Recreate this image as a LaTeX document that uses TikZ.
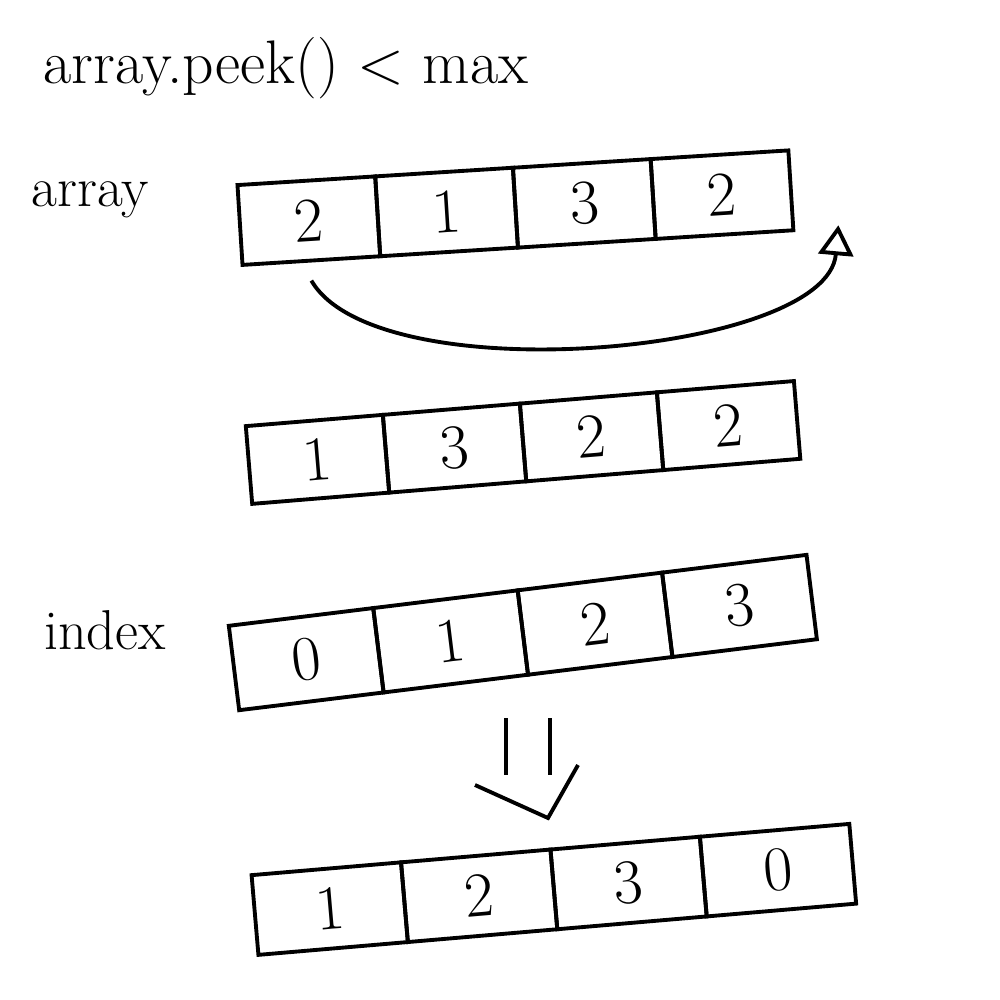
\documentclass[tikz,border=0pt]{standalone}
\usepackage{tikz}
\usetikzlibrary{positioning, arrows.meta}

\tikzset{
  cell/.style={draw, line width=1.1pt, minimum height=0.8cm, minimum width=1.38cm,
    inner sep=0pt, outer sep=0pt, font=\fontsize{18}{20}\selectfont},
  label/.style={font=\fontsize{16}{18}\selectfont}
}

\begin{document}
\begin{tikzpicture}[line width=1.1pt]
\useasboundingbox (0,0) rectangle (10,-10);

\node[label, anchor=west, font=\fontsize{17.5}{19}\selectfont] (cond) at (0.3,-0.68) {array.peek() < max};
\node[label] (lblarr) at (0.9,-2.0) {array};
\node[label] (lblidx) at (1.05,-6.3) {index};

% array before the move
\begin{scope}[shift={(2.40,-2.25)}, rotate=3.6, transform shape]
\node[cell, anchor=west] (a1) at (0,0) {2};
\node[cell, right=0pt of a1] (a2) {1};
\node[cell, right=0pt of a2] (a3) {3};
\node[cell, right=0pt of a3] (a4) {2};
\end{scope}

% array after the move
\begin{scope}[shift={(2.49,-4.65)}, rotate=4.7, transform shape]
\node[cell, anchor=west, minimum height=0.78cm, minimum width=1.375cm] (b1) at (0,0) {1};
\node[cell, right=0pt of b1, minimum height=0.78cm, minimum width=1.375cm] (b2) {3};
\node[cell, right=0pt of b2, minimum height=0.78cm, minimum width=1.375cm] (b3) {2};
\node[cell, right=0pt of b3, minimum height=0.78cm, minimum width=1.375cm] (b4) {2};
\end{scope}

% index
\begin{scope}[shift={(2.34,-6.68)}, rotate=7, transform shape]
\node[cell, anchor=west, minimum height=0.85cm, minimum width=1.455cm] (i1) at (0,0) {0};
\node[cell, right=0pt of i1, minimum height=0.85cm, minimum width=1.455cm] (i2) {1};
\node[cell, right=0pt of i2, minimum height=0.85cm, minimum width=1.455cm] (i3) {2};
\node[cell, right=0pt of i3, minimum height=0.85cm, minimum width=1.455cm] (i4) {3};
\end{scope}

% rotated index
\begin{scope}[shift={(2.55,-9.15)}, rotate=4.9, transform shape]
\node[cell, anchor=west, minimum width=1.5cm] (r1) at (0,0) {1};
\node[cell, right=0pt of r1, minimum width=1.5cm] (r2) {2};
\node[cell, right=0pt of r2, minimum width=1.5cm] (r3) {3};
\node[cell, right=0pt of r3, minimum width=1.5cm] (r4) {0};
\end{scope}

\coordinate (back) at ([xshift=0.45cm, yshift=0.05cm]a4.south east);
\draw[-{Triangle[open, length=0.3cm, width=0.35cm]}]
  ([yshift=-0.2cm]a1.south) to[out=-60, in=-95, looseness=0.63] (back);

% implies arrow
\coordinate (dtop) at (5.28,-7.18);
\coordinate (dbot) at (5.28,-7.75);
\coordinate (dtip) at (5.48,-8.18);
\draw[double, double distance=0.4cm] (dtop) -- (dbot);
\draw ([shift={(-0.73,0.33)}]dtip) -- (dtip) -- ([shift={(0.3,0.53)}]dtip);
\end{tikzpicture}
\end{document}
